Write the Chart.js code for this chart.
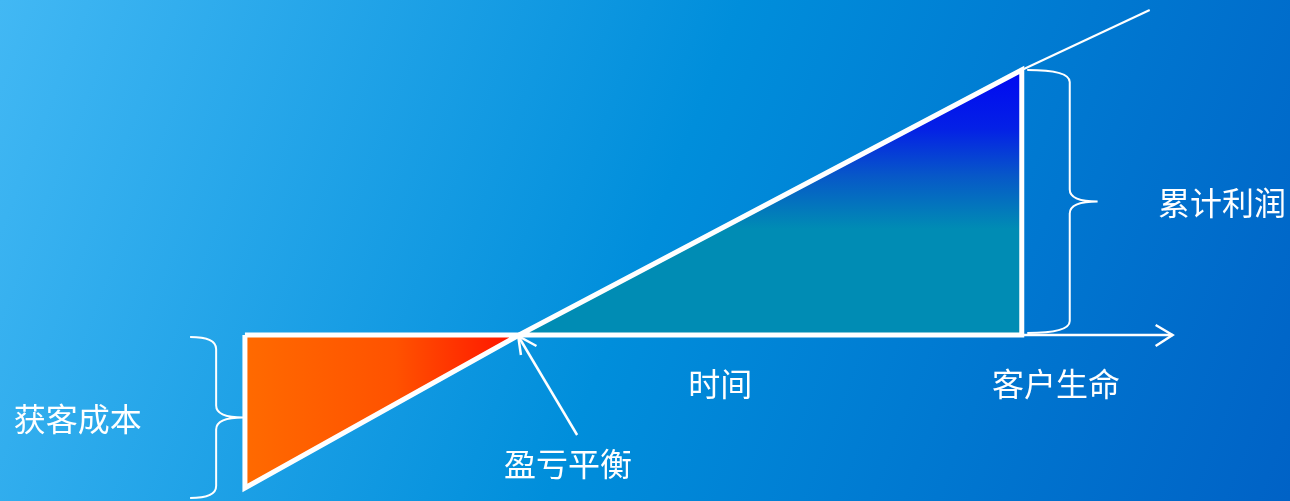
<!DOCTYPE html>
<html>
<head>
<meta charset="utf-8">
<script src="https://cdn.jsdelivr.net/npm/chart.js@4/dist/chart.umd.min.js"></script>
<style>
  html, body { margin: 0; padding: 0; overflow: hidden; }
  #wrap { width: 1290px; height: 501px; position: relative; }
</style>
</head>
<body>
<div id="wrap"><canvas id="ltv"></canvas></div>
<script>
// time in months, value in money units (rough reading of the picture)
const breakEvenMonth = 6;
const lifetimeMonth = 17;
const acquisitionCost = -153;
const cumulativeProfit = 265;
const trendEnd = { x: 19.8, y: 325 };
const axisEnd = 20.3;

const costShape = [
  { x: 0, y: 0 }, { x: breakEvenMonth, y: 0 }, { x: 0, y: acquisitionCost }, { x: 0, y: 0 }
];
const profitShape = [
  { x: breakEvenMonth, y: 0 }, { x: lifetimeMonth, y: cumulativeProfit },
  { x: lifetimeMonth, y: 0 }, { x: breakEvenMonth, y: 0 }
];
const trendLine = [{ x: lifetimeMonth, y: cumulativeProfit }, trendEnd];
const timeAxis = [{ x: breakEvenMonth, y: 0 }, { x: axisEnd, y: 0 }];
const axisHead = [{ x: axisEnd - 0.37, y: 10 }, { x: axisEnd, y: 0 }, { x: axisEnd - 0.37, y: -11 }];
const pointerShaft = [{ x: 7.27, y: -100 }, { x: 5.98, y: -1 }];
const pointerHead = [{ x: 6.04, y: -20 }, { x: 5.98, y: -1 }, { x: 6.38, y: -11 }];

// braces: [left end x, spine x, tip x, top y, bottom y]
const costBrace = [-1.2, -0.63, -0.04, -2, -163];
const profitBrace = [17.12, 18.05, 18.66, 265, 2];

const labelTexts = ['获客成本', '盈亏平衡', '时间', '客户生命', '累计利润'];
const labelX = [-3.66, 7.07, 10.4, 17.75, 21.38];
const labelY = [-84, -129, -49, -49, 132];

function costFill(ctx) {
  const ch = ctx.chart;
  if (!ch.chartArea) return 'rgba(0,0,0,0)';
  const x = ch.scales.x;
  const g = ch.ctx.createLinearGradient(x.getPixelForValue(0), 0, x.getPixelForValue(breakEvenMonth), 0);
  g.addColorStop(0, '#ff6a00');
  g.addColorStop(0.55, '#ff5200');
  g.addColorStop(1, '#ff1200');
  return g;
}

function profitFill(ctx) {
  const ch = ctx.chart;
  if (!ch.chartArea) return 'rgba(0,0,0,0)';
  const y = ch.scales.y;
  const g = ch.ctx.createLinearGradient(0, y.getPixelForValue(0), 0, y.getPixelForValue(cumulativeProfit));
  g.addColorStop(0, '#008cb4');
  g.addColorStop(0.4, '#008cb4');
  g.addColorStop(0.6, '#0758c8');
  g.addColorStop(0.78, '#0420e6');
  g.addColorStop(1, '#0008f2');
  return g;
}

const backdrop = {
  id: 'backdrop',
  beforeDraw(chart) {
    const c = chart.ctx;
    const g = c.createLinearGradient(0, 0, chart.width, chart.height);
    g.addColorStop(0, '#42b8f4');
    g.addColorStop(0.5, '#008edb');
    g.addColorStop(1, '#0062c6');
    c.save();
    c.fillStyle = g;
    c.fillRect(0, 0, chart.width, chart.height);
    c.restore();
  }
};

function drawBrace(c, sx, sy, b) {
  const x0 = sx.getPixelForValue(b[0]);
  const xm = sx.getPixelForValue(b[1]);
  const x1 = sx.getPixelForValue(b[2]);
  const yt = sy.getPixelForValue(b[3]);
  const yb = sy.getPixelForValue(b[4]);
  const ym = (yt + yb) / 2;
  const r = 12;
  c.beginPath();
  c.moveTo(x0, yt);
  c.quadraticCurveTo(xm, yt, xm, yt + r);
  c.lineTo(xm, ym - r);
  c.quadraticCurveTo(xm, ym, x1, ym);
  c.quadraticCurveTo(xm, ym, xm, ym + r);
  c.lineTo(xm, yb - r);
  c.quadraticCurveTo(xm, yb, x0, yb);
  c.stroke();
}

const notes = {
  id: 'notes',
  afterDatasetsDraw(chart) {
    const c = chart.ctx;
    const sx = chart.scales.x, sy = chart.scales.y;
    c.save();
    c.strokeStyle = '#ffffff';
    c.lineWidth = 2;
    drawBrace(c, sx, sy, costBrace);
    drawBrace(c, sx, sy, profitBrace);
    c.fillStyle = '#ffffff';
    c.font = '32px "Noto Sans CJK SC", sans-serif';
    c.textAlign = 'center';
    c.textBaseline = 'middle';
    labelTexts.forEach((t, i) => {
      c.fillText(t, sx.getPixelForValue(labelX[i]), sy.getPixelForValue(labelY[i]));
    });
    c.restore();
  }
};

function lineSet(data, width, extra) {
  return Object.assign({
    data: data,
    showLine: true,
    borderColor: '#ffffff',
    borderWidth: width,
    pointRadius: 0,
    pointHoverRadius: 0,
    tension: 0,
    fill: false,
    clip: false
  }, extra || {});
}

new Chart(document.getElementById('ltv'), {
  type: 'scatter',
  data: {
    datasets: [
      lineSet(timeAxis, 2.5),
      lineSet(axisHead, 2.5, { borderJoinStyle: 'miter' }),
      lineSet(trendLine, 2),
      lineSet(costShape, 5, { fill: 'shape', backgroundColor: costFill, borderJoinStyle: 'miter' }),
      lineSet(profitShape, 5, { fill: 'shape', backgroundColor: profitFill, borderJoinStyle: 'miter' }),
      lineSet(pointerShaft, 2.5),
      lineSet(pointerHead, 2.5, { borderJoinStyle: 'miter' })
    ]
  },
  options: {
    responsive: true,
    maintainAspectRatio: false,
    animation: false,
    events: [],
    layout: { padding: 0 },
    plugins: { legend: { display: false }, tooltip: { enabled: false } },
    scales: {
      x: { type: 'linear', min: -5.36, max: 22.87, display: false },
      y: { type: 'linear', min: -166, max: 335, display: false }
    }
  },
  plugins: [backdrop, notes]
});
</script>
</body>
</html>
